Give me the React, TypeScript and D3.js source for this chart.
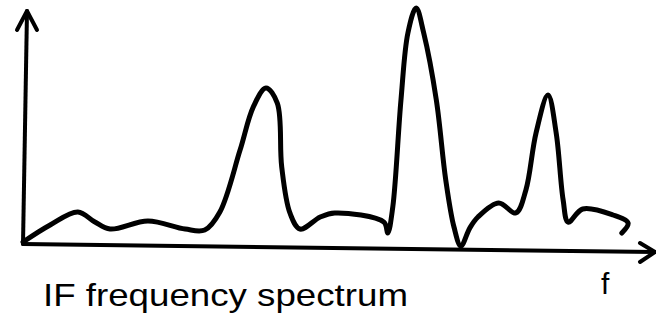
import React from 'react';
import * as d3 from 'd3';

// Sketched IF spectrum: frequency (0..100) vs amplitude (0..100)
const freq = [
  0, 4.3, 8.7, 11.4, 13.8, 19.8, 25.7, 28.8, 31.2, 34.4, 36.5, 38.5, 40.3, 41, 42.3, 43.9,
  47.1, 49.4, 57.2, 57.8, 58.6, 59.9, 61, 62.3, 63.5, 65.5, 67, 68.3, 69.4, 70.8, 72.1,
  75.4, 78.1, 79.7, 81.3, 83.2, 84.5, 85.6, 86.4, 88.7, 93.5, 95.9, 94.9,
];
const amplitude = [
  2.5, 9.6, 15, 10.8, 7.9, 11.25, 7.9, 7.5, 15, 40.8, 58.8, 66.7, 60.4, 33.8, 14.6, 7.9,
  12.9, 14.6, 10.8, 6.25, 17, 61.7, 89.6, 100, 89.6, 61.7, 28.3, 8.75, 0.8, 8.3, 12.9,
  18.75, 14.6, 24.2, 47.9, 63.75, 47.9, 20, 10.8, 16.25, 13.75, 10.4, 6.25,
];
const title = 'IF frequency spectrum';
const xLabel = 'f';

const W = 656;
const H = 318;

const App = () => {
  const x = d3.scaleLinear().domain([0, 100]).range([23, 654]);
  const y = d3.scaleLinear().domain([0, 100]).range([248, 8]);

  const pts = freq.map((f, i) => [x(f), y(amplitude[i])] as [number, number]);
  const line = d3.line().curve(d3.curveCatmullRom.alpha(0.5));

  // hand-drawn axes lean a little
  const x0 = x(0);
  const xEnd = x(100) + 1;
  const axisLeftY = y(0) - 4;
  const axisRightY = y(0) + 4;
  const yTopX = x0 + 4;
  const yTop = 11;

  return (
    <svg width={W} height={H} style={{ position: 'absolute', left: 0, top: 0 }}>
      <rect width={W} height={H} fill="#fff" />
      <g stroke="#000" strokeWidth={4} fill="none" strokeLinecap="round" strokeLinejoin="round">
        {/* y axis */}
        <path d={`M${x0},${axisLeftY}L${yTopX},${yTop}`} />
        <path d={`M${yTopX - 10},${yTop + 19}L${yTopX},${yTop}L${yTopX + 10},${yTop + 19}`} />
        {/* x axis */}
        <path d={`M${x0},${axisLeftY}L${xEnd},${axisRightY}`} />
        <path d={`M${xEnd - 15},${axisRightY - 9}L${xEnd},${axisRightY}L${xEnd - 15},${axisRightY + 10}`} />
      </g>
      <path d={line(pts) || ''} fill="none" stroke="#000" strokeWidth={5} strokeLinecap="round" strokeLinejoin="round" />
      <text
        x={43}
        y={306}
        fontFamily="Liberation Sans, Arial, sans-serif"
        fontSize={32}
        fill="#000"
        textLength={365}
        lengthAdjust="spacingAndGlyphs"
      >
        {title}
      </text>
      <text x={601} y={294} fontFamily="Liberation Sans, Arial, sans-serif" fontSize={30} fill="#000">
        {xLabel}
      </text>
    </svg>
  );
};

export default App;
